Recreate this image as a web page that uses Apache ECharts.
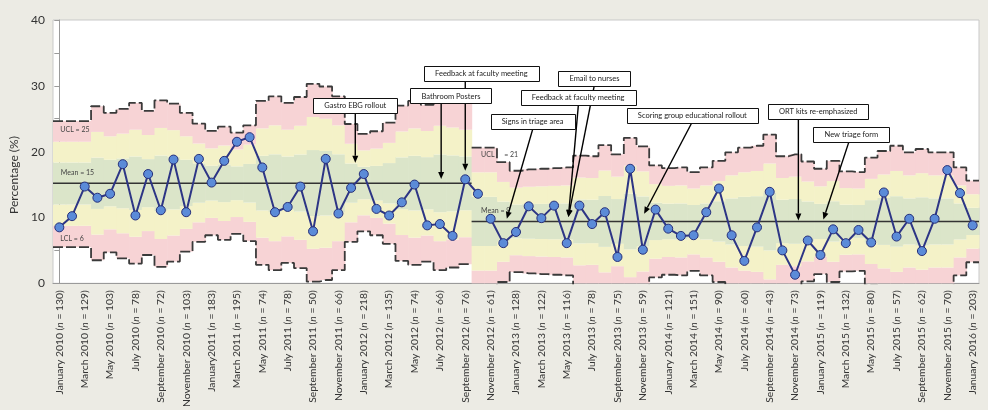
<!DOCTYPE html>
<html><head><meta charset="utf-8">
<script src="https://cdn.jsdelivr.net/npm/echarts@6/dist/echarts.min.js"></script>
<style>html,body{margin:0;padding:0;background:#ecebe4;}#c{width:988px;height:410px;}</style>
</head><body><div id="c"></div>
<script>
// ---------- DATA ----------
const categories = [
"January 2010","February 2010","March 2010","April 2010","May 2010","June 2010","July 2010","August 2010","September 2010","October 2010","November 2010","December 2010",
"January2011","February 2011","March 2011","April 2011","May 2011","June 2011","July 2011","August 2011","September 2011","October 2011","November 2011","December 2011",
"January 2012","February 2012","March 2012","April 2012","May 2012","June 2012","July 2012","August 2012","September 2012","October 2012","November 2012","December 2012",
"January 2013","February 2013","March 2013","April 2013","May 2013","June 2013","July 2013","August 2013","September 2013","October 2013","November 2013","December 2013",
"January 2014","February 2014","March 2014","April 2014","May 2014","June 2014","July 2014","August 2014","September 2014","October 2014","November 2014","December 2014",
"January 2015","February 2015","March 2015","April 2015","May 2015","June 2015","July 2015","August 2015","September 2015","October 2015","November 2015","December 2015",
"January 2016"];
// n for the labelled (every other) months
const tickN = [130,129,103,78,72,103,183,195,74,78,50,66,218,135,74,66,76,61,128,122,116,78,75,59,121,151,90,60,43,73,119,132,80,57,62,70,203];
// monthly percentage
const percent = [8.5,10.2,14.7,13.0,13.6,18.1,10.3,16.6,11.1,18.8,10.8,18.9,15.3,18.6,21.5,22.2,17.6,10.8,11.6,14.7,7.9,18.9,10.6,14.5,16.6,11.3,10.3,12.3,15.0,8.8,9.0,7.2,15.8,13.6,
9.8,6.1,7.8,11.7,9.9,11.8,6.1,11.8,9.0,10.8,4.0,17.4,5.1,11.2,8.3,7.2,7.3,10.8,14.4,7.3,3.4,8.5,13.9,5.0,1.3,6.5,4.3,8.2,6.1,8.1,6.2,13.8,7.1,9.8,4.9,9.8,17.2,13.7,8.8];
// control limits per month
const ucl = [24.65,24.65,24.65,26.9,25.9,26.5,27.4,26.2,27.8,27.3,25.9,24.25,23.15,23.8,22.9,24.0,27.7,28.4,27.4,28.3,30.3,29.9,28.4,24.2,22.7,23.1,24.4,27.0,27.7,27.1,28.3,27.9,27.4,
20.6,20.6,18.4,17.1,17.3,17.4,17.5,17.6,19.4,19.3,21.0,19.6,22.1,20.8,17.9,17.5,17.6,16.9,17.6,18.6,19.9,20.6,20.9,22.6,19.3,19.6,18.5,17.4,18.6,17.0,16.9,19.1,20.1,20.9,19.9,20.4,19.9,19.9,17.6,15.6];
const lcl = [5.5,5.5,5.5,3.5,4.7,3.8,3.0,4.3,2.5,3.3,4.8,6.3,7.3,6.6,7.5,6.4,2.8,2.0,3.1,2.3,0.25,0.5,2.0,6.3,7.9,7.3,6.0,3.4,2.8,3.3,2.0,2.4,2.9,
-1.8,-1.8,0.2,1.7,1.5,1.4,1.3,1.2,-0.6,-0.5,-2.2,-0.8,-3.3,-2.0,0.9,1.3,1.2,1.9,1.2,0.2,-1.1,-1.8,-2.1,-3.8,-0.5,-0.8,0.3,1.4,0.2,1.8,1.9,-0.3,-1.3,-2.1,-1.1,-1.6,-1.1,-1.1,1.2,3.2];
const phaseStart = [0, 33];      // first month of each phase (bands / limits)
const lineBreak = 34;             // first point of the second phase line
const phaseMean = [15.2, 9.4];
const yTicks = [0, 10, 20, 30, 40];

// annotations (data coordinates: x = month index, y = percentage)
const annotations = [
 {text:'Gastro EBG rollout', boxX:23.33, boxTop:28.2, fromX:23.33, tipX:23.33, tipY:18.3},
 {text:'Feedback at faculty meeting', boxX:33.27, boxTop:33.06, fromX:32.0, tipX:32.0, tipY:17.1},
 {text:'Bathroom Posters', boxX:30.87, boxTop:29.6, fromX:30.1, tipX:30.1, tipY:15.85},
 {text:'Email to nurses', boxX:42.18, boxTop:32.3, fromX:42.17, tipX:40.13, tipY:10.07},
 {text:'Feedback at faculty meeting', boxX:40.9, boxTop:29.43, fromX:40.92, tipX:40.13, tipY:10.07},
 {text:'Signs in triage area', boxX:37.31, boxTop:25.77, fromX:37.33, tipX:35.28, tipY:9.81},
 {text:'Scoring group educational rollout', boxX:49.9, boxTop:26.67, fromX:49.86, tipX:46.1, tipY:10.57},
 {text:'ORT kits re-emphasized', boxX:59.83, boxTop:27.27, fromX:58.26, tipX:58.26, tipY:9.55},
 {text:'New triage form', boxX:62.44, boxTop:23.8, fromX:62.25, tipX:60.23, tipY:9.7}
];
const plotNotes = [
 {text:'UCL = 25', x:0.08, y:23.4},
 {text:'Mean = 15', x:0.12, y:16.75},
 {text:'LCL = 6', x:0.08, y:6.8},
 {text:'UCL', x:33.25, y:19.6},
 {text:'= 21', x:34.75, y:19.6, bg:true},
 {text:'Mean = 9', x:33.25, y:11.0}
];

// ---------- STYLE ----------
const FONT = 'Lato, "Open Sans", sans-serif';
const ZONE = ['#f7d3d5','#f4f2c8','#dbe5c9','#f4f2c8','#f7d3d5'];
const BOX_H = 15, BOX_PAD = 11, BOX_FONT = '7.5px ' + FONT;
const mctx = document.createElement('canvas').getContext('2d');
mctx.font = BOX_FONT;

const N = categories.length;
const phaseOf = i => (i >= phaseStart[1] ? 1 : 0);
const phaseEnd = [phaseStart[1] - 1, N - 1];

const chart = echarts.init(document.getElementById('c'));

const bandData = categories.map((c, i) => [i, lcl[i], ucl[i], phaseMean[phaseOf(i)]]);

function limitSeries(arr, p) {
  const s = phaseStart[p], e = phaseEnd[p];
  const d = [[s - 0.5, arr[s]]];
  for (let i = s; i <= e; i++) d.push([i, arr[i]]);
  d.push([e + 0.5, arr[e]]);
  return {type:'line', xAxisIndex:1, step:'middle', data:d, symbol:'none', silent:true, z:3,
    lineStyle:{color:'#3a3a3a', width:1.8, type:[10,3]}};
}
function meanSeries(p) {
  return {type:'line', xAxisIndex:1, data:[[phaseStart[p]-0.5, phaseMean[p]],[phaseEnd[p]+0.5, phaseMean[p]]],
    symbol:'none', silent:true, z:4, lineStyle:{color:'#333', width:1.6}};
}
function pointSeries(from, to) {
  return {type:'line', xAxisIndex:0, data: percent.map((v,i)=> (i>=from && i<to) ? v : null),
    symbol:'circle', symbolSize:9, showAllSymbol:true, z:6, connectNulls:false,
    lineStyle:{color:'#2d3585', width:2},
    itemStyle:{color:'#5b8bd8', borderColor:'#27307a', borderWidth:1}};
}

const option = {
  animation:false,
  backgroundColor:'#ecebe4',
  textStyle:{fontFamily:FONT},
  grid:{left:53,right:9,top:20,bottom:125,show:true,backgroundColor:'#fff',borderColor:'#c9c9c9',borderWidth:1},
  xAxis:[
    {type:'category', data:categories, boundaryGap:true,
     axisLine:{lineStyle:{color:'#9a9a9a'}},
     axisTick:{alignWithLabel:true, interval:1, length:5, lineStyle:{color:'#9a9a9a'}},
     axisLabel:{interval:1, rotate:90, margin:7, color:'#333',
       formatter:(v, i) => `{t|${v} (}{i|n}{t| = ${tickN[Math.round(i/2)]})}`,
       rich:{t:{fontSize:10.3, color:'#333', fontFamily:FONT}, i:{fontSize:10.3, color:'#333', fontFamily:FONT, fontStyle:'italic'}}}},
    {type:'value', min:-0.5, max:N-0.5, show:false}
  ],
  yAxis:{type:'value', min:yTicks[0], max:yTicks[yTicks.length-1], interval:yTicks[1]-yTicks[0],
    axisLine:{show:true, lineStyle:{color:'#9a9a9a'}},
    axisTick:{show:true, length:5, lineStyle:{color:'#9a9a9a'}},
    minorTick:{show:true, splitNumber:2, length:5, lineStyle:{color:'#9a9a9a'}},
    splitLine:{show:false},
    axisLabel:{fontSize:12, color:'#333', fontFamily:FONT, margin:8}},
  graphic:[{type:'text', x:14, y:175, rotation:Math.PI/2,
    style:{text:'Percentage (%)', font:'12px ' + FONT, fill:'#333', align:'center', verticalAlign:'middle'}}],
  series:[
    {type:'custom', xAxisIndex:1, data:bandData, silent:true, z:1,
     renderItem:(params, api) => {
       const i = api.value(0), lo = api.value(1), hi = api.value(2), m = api.value(3);
       const su = (hi - m)/3, sl = (m - lo)/3;
       const edges = [lo, m-2*sl, m-sl, m+su, m+2*su, hi];
       const children = [];
       for (let z = 0; z < 5; z++) {
         const a = Math.max(0, edges[z]), b = Math.max(0, edges[z+1]);
         if (b <= a) continue;
         const p1 = api.coord([i-0.5, b]), p2 = api.coord([i+0.5, a]);
         children.push({type:'rect', shape:{x:p1[0], y:p1[1], width:p2[0]-p1[0]+0.6, height:p2[1]-p1[1]},
           style:{fill:ZONE[z]}});
       }
       return {type:'group', children};
     }},
    limitSeries(ucl,0), limitSeries(lcl,0), limitSeries(ucl,1), limitSeries(lcl,1),
    meanSeries(0), meanSeries(1),
    pointSeries(0, lineBreak), pointSeries(lineBreak, N),
    // plot notes
    {type:'custom', xAxisIndex:1, data:plotNotes.map((n,i)=>[n.x, n.y]), silent:true, z:7,
     renderItem:(params, api) => {
       const n = plotNotes[params.dataIndex];
       const p = api.coord([n.x, n.y]);
       const style = {text:n.text, x:p[0], y:p[1], font:'7px ' + FONT, fill:'#444', align:'left', verticalAlign:'middle'};
       if (n.bg) { style.backgroundColor = '#fff'; style.padding = [3,4]; }
       return {type:'text', style};
     }},
    // arrows
    {type:'custom', xAxisIndex:1, data:annotations.map(a=>[a.tipX, a.tipY]), silent:true, z:8,
     renderItem:(params, api) => {
       const a = annotations[params.dataIndex];
       const top = api.coord([a.fromX, a.boxTop]);
       const s = [top[0], top[1] + BOX_H];
       const t = api.coord([a.tipX, a.tipY]);
       const dx = t[0]-s[0], dy = t[1]-s[1], L = Math.hypot(dx, dy);
       const ux = dx/L, uy = dy/L, nx = -uy, ny = ux, hl = 7, hw = 3;
       const bx = t[0]-ux*hl, by = t[1]-uy*hl;
       return {type:'group', children:[
         {type:'line', shape:{x1:s[0], y1:s[1], x2:bx, y2:by}, style:{stroke:'#000', lineWidth:1.4}},
         {type:'polygon', shape:{points:[[t[0],t[1]],[bx+nx*hw, by+ny*hw],[bx-nx*hw, by-ny*hw]]}, style:{fill:'#000'}}
       ]};
     }},
    // boxes
    {type:'custom', xAxisIndex:1, data:annotations.map(a=>[a.boxX, a.boxTop]), silent:true, z:9,
     renderItem:(params, api) => {
       const a = annotations[params.dataIndex];
       const c = api.coord([a.boxX, a.boxTop]);
       const w = Math.round(mctx.measureText(a.text).width) + 2*BOX_PAD;
       return {type:'group', children:[
         {type:'rect', shape:{x:Math.round(c[0]-w/2)+0.5, y:Math.round(c[1])+0.5, width:w, height:BOX_H},
          style:{fill:'#fff', stroke:'#111', lineWidth:1}},
         {type:'text', style:{text:a.text, x:c[0], y:c[1]+BOX_H/2+0.5, font:BOX_FONT, fill:'#222', align:'center', verticalAlign:'middle'}}
       ]};
     }}
  ]
};
chart.setOption(option);
</script></body></html>
